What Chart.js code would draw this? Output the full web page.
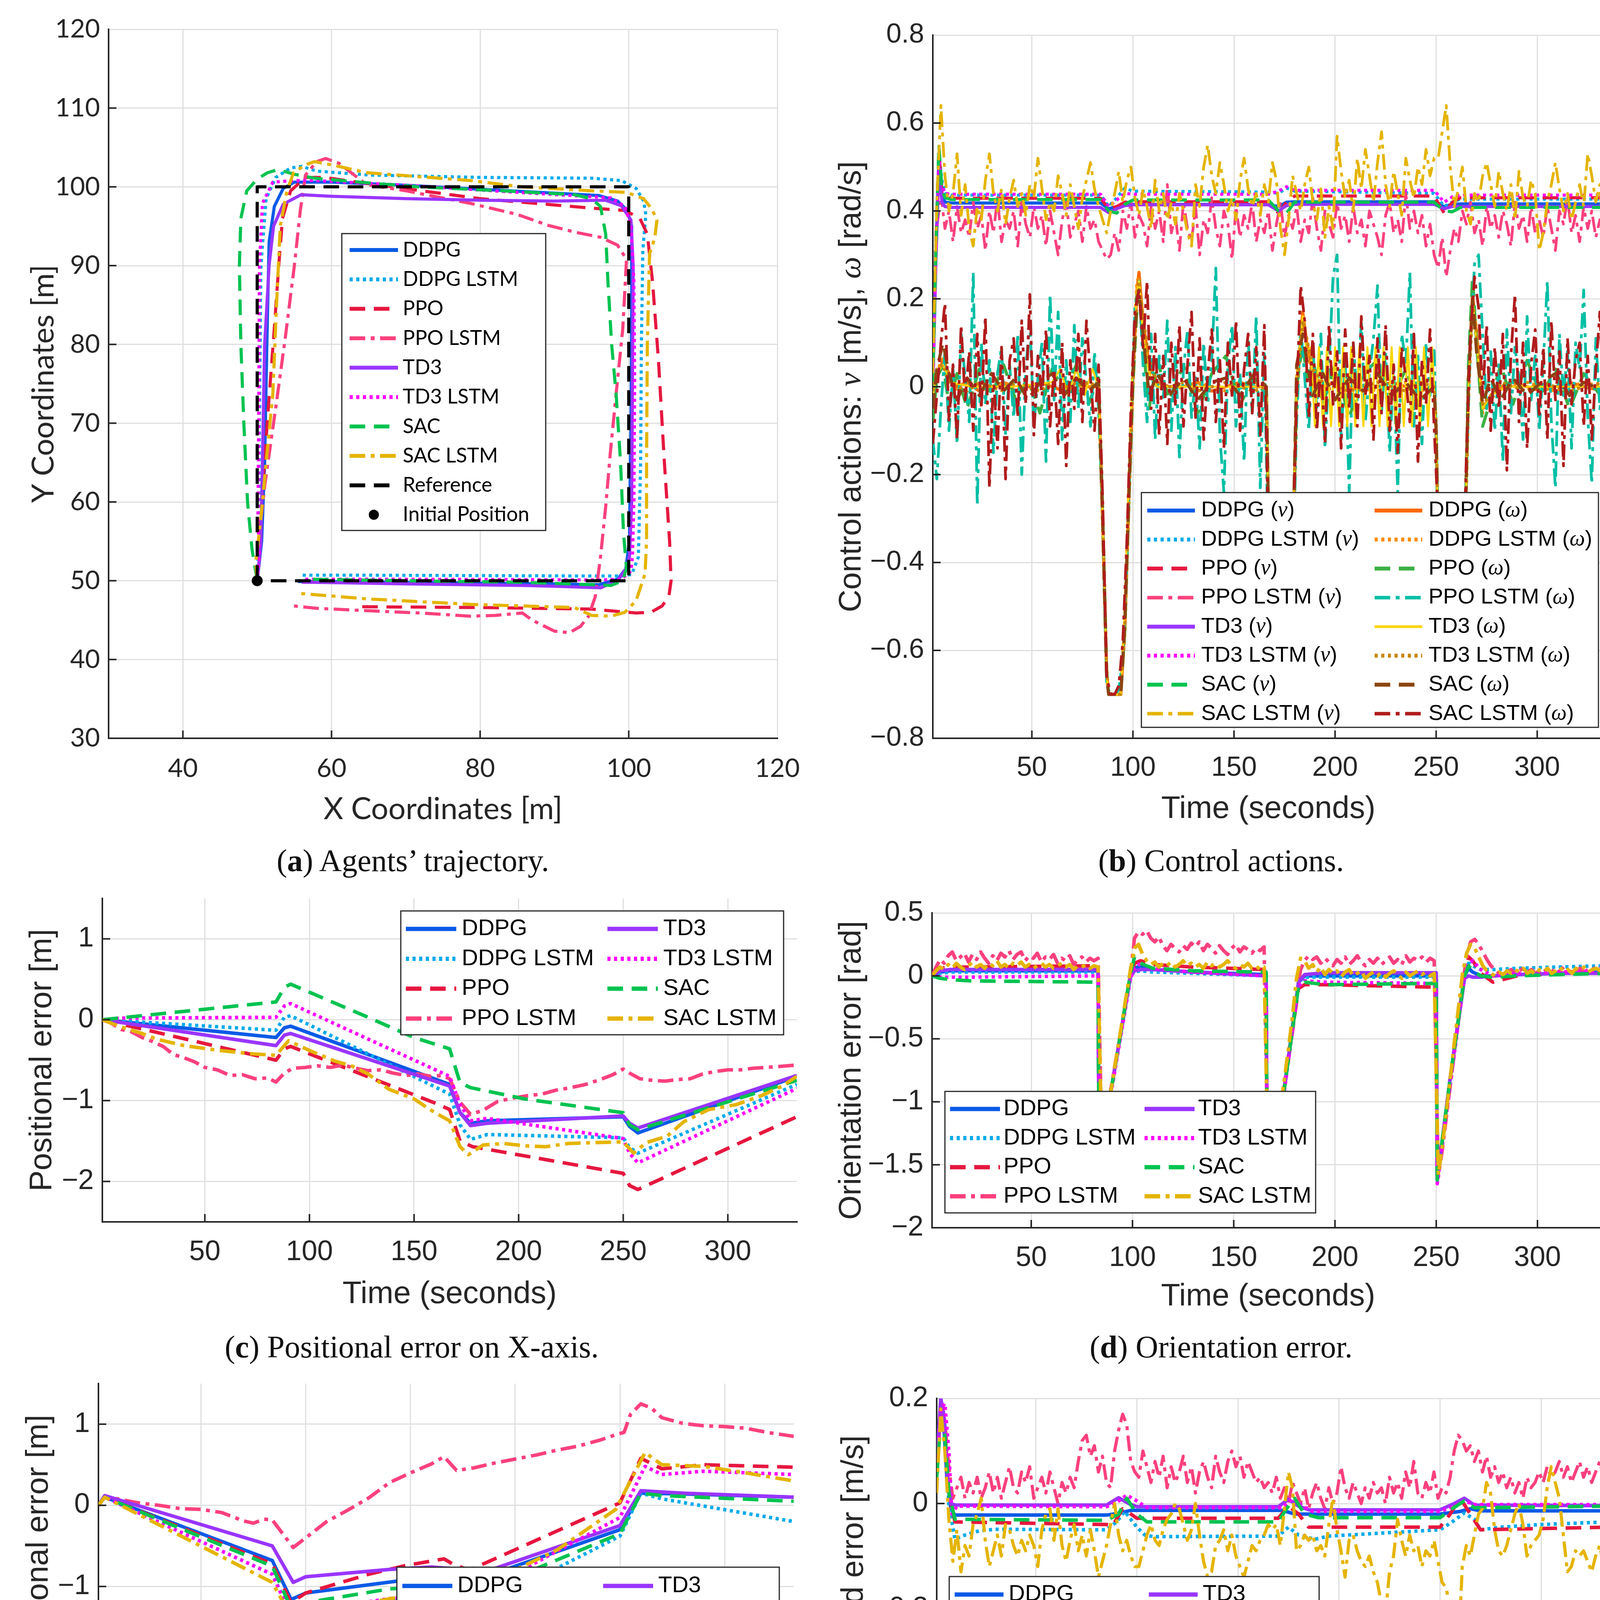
<!DOCTYPE html>
<html>
<head>
<meta charset="utf-8">
<script src="https://cdn.jsdelivr.net/npm/chart.js@4.4.1/dist/chart.umd.min.js"></script>
<style>
  body { margin: 0; background: #fff; width: 4150px; height: 4749px; position: relative; overflow: hidden; }
  canvas { position: absolute; }
  .cap { position: absolute; width: 2000px; text-align: center; font-family: "Liberation Serif", serif; font-size: 80px; line-height: 96px; color: #111; white-space: nowrap; }
</style>
</head>
<body>
<canvas id="pa"></canvas>
<canvas id="pb"></canvas>
<canvas id="pc"></canvas>
<canvas id="pd"></canvas>
<canvas id="pe"></canvas>
<canvas id="pf"></canvas>
<div class="cap" style="left:57px;top:2155px">(<b>a</b>) Agents’ trajectory.</div>
<div class="cap" style="left:2126px;top:2155px">(<b>b</b>) Control actions.</div>
<div class="cap" style="left:54px;top:3400px">(<b>c</b>) Positional error on X-axis.</div>
<div class="cap" style="left:2126px;top:3400px">(<b>d</b>) Orientation error.</div>
<div class="cap" style="left:48px;top:4649px">(<b>e</b>) Positional error on Y-axis.</div>
<div class="cap" style="left:2138px;top:4649px">(<b>f</b>) Linear speed error.</div>
<script>
// ---------- (a) trajectories, x/y in metres
const aDdpgX = [50, 50.6, 51.0, 51.3, 51.6, 52.3, 53.5, 55, 60, 70, 80, 90, 96, 98.5, 99.8, 100.4, 100.4, 100.3, 100.1, 99.6, 98.5, 96, 90, 80, 70, 60, 55.5];
const aDdpgY = [50, 55, 65, 80, 93, 97.5, 99.8, 100.6, 100.6, 100.2, 99.7, 99.2, 98.9, 98.2, 97, 95, 85, 70, 55, 51.5, 50.2, 49.5, 49.6, 49.7, 49.8, 49.9, 49.9];
const aDdpgLstmX = [50, 50.2, 50.3, 50.5, 51.2, 52.5, 54.5, 56, 58, 65, 80, 95, 99, 101, 102, 102.3, 101.9, 101.7, 101.6, 101.3, 100.4, 99, 95, 80, 65, 56];
const aDdpgLstmY = [50, 55, 70, 90, 98.5, 101.2, 102.4, 102.6, 102.0, 101.5, 101.2, 101.1, 100.8, 99.8, 98.2, 96.5, 92, 80, 65, 53, 50.8, 50.6, 50.6, 50.65, 50.7, 50.7];
const aPpoX = [50, 50.6, 51.5, 52.3, 52.9, 53.4, 54.5, 56.5, 59, 65, 80, 95, 99.5, 101.5, 102.5, 103.2, 104, 104.8, 105.5, 105.7, 105.4, 104.5, 103, 101, 95, 80, 63];
const aPpoY = [50, 60, 72, 82, 90, 96, 99.5, 101.2, 101.2, 100.4, 98.5, 97.3, 97, 96, 94, 88, 78, 65, 55, 50, 48, 46.8, 46, 45.9, 46.4, 46.6, 46.7];
const aPpoLstmX = [50, 50.3, 51, 52.5, 53.8, 55, 55.8, 56.5, 58, 59.2, 61, 64.7, 70, 78.7, 85, 89.2, 93, 96.2, 98.5, 99.7, 99.2, 98.3, 97.5, 96.9, 96.2, 95.5, 94.6, 93.5, 92, 90, 87, 85.7, 82, 78.7, 72, 64.7, 58, 54.9];
const aPpoLstmY = [50, 56, 62, 72, 81, 90, 97, 101.5, 103.2, 103.6, 103.0, 100.3, 99.5, 97.9, 96.5, 95.1, 94.2, 93.6, 92.6, 90.8, 82, 73.7, 66, 59.4, 53, 48, 45.5, 44.2, 43.4, 43.6, 45, 45.9, 45.6, 45.5, 45.9, 46.2, 46.5, 46.8];
const aTd3X = [50, 50.5, 50.7, 51, 51.6, 52.2, 53.5, 55.9, 60, 70, 80, 90, 96.9, 99, 100.3, 100.6, 100.5, 100.4, 100.1, 99.6, 98.5, 96.2, 90, 85.7, 70, 57.7, 56];
const aTd3Y = [50, 55, 65, 80, 90, 95, 97.8, 99, 98.8, 98.5, 98.3, 98.2, 98.3, 97.6, 95.8, 90, 75, 60, 53, 51.5, 50, 49.1, 49.3, 49.4, 49.6, 49.8, 49.8];
const aTd3LstmX = [50, 50.3, 50.1, 50.2, 50.3, 50.7, 52.1, 55, 57.7, 70, 85, 97.6, 99.5, 100.3, 100.7, 100.8, 100.7, 100.5, 100.3, 99, 96, 85, 70, 56];
const aTd3LstmY = [50, 53, 58, 70, 90, 97.9, 100.6, 100.8, 100.8, 100.2, 99.3, 98.6, 97.5, 95, 88, 75, 60, 53, 51.2, 50.2, 50.1, 50.15, 50.2, 50.2];
const aSacX = [50, 49.3, 48.7, 48.2, 47.8, 47.6, 47.8, 48.6, 50, 51.4, 52.8, 55, 57.7, 65, 71.7, 85, 92.7, 95, 96.2, 96.9, 97.2, 97.7, 98.3, 98.9, 99.3, 99.7, 99.2, 97.6, 95, 85.7, 70, 56.3];
const aSacY = [50, 54, 60, 70, 80, 90, 96, 99.5, 101, 101.8, 102.2, 101.6, 101.1, 100.5, 100, 99.4, 99, 98.5, 97.5, 94, 88, 80, 73.7, 65, 56, 51.6, 50, 49.4, 49.5, 49.8, 50, 50.2];
const aSacLstmX = [50, 49.8, 50.5, 51.3, 52.1, 52.6, 53.1, 54, 54.9, 56.5, 57.7, 60, 64.7, 78.7, 85.7, 95, 99.7, 102, 103.1, 103.8, 103.5, 102.8, 102.5, 102.4, 102.4, 102.2, 101, 99.5, 97.6, 95, 92.7, 78.7, 64.7, 55.6];
const aSacLstmY = [50, 52.3, 58, 66, 73.7, 85, 95, 99.5, 101.8, 102.8, 103.2, 102.8, 101.8, 100.8, 100, 99.5, 99.3, 98.5, 97.2, 95.8, 93.5, 91.5, 80, 65, 55, 50.9, 47.5, 46, 45.5, 45.6, 46.6, 47, 47.7, 48.4];
const aRefX = [50, 50, 100, 100, 50];
const aRefY = [50, 100, 100, 50, 50];
const aStartX = [50];
const aStartY = [50];
const aXTicks = [40, 60, 80, 100, 120];
const aYTicks = [30, 40, 50, 60, 70, 80, 90, 100, 110, 120];

// ---------- shared time axis
const timeTicks = [50, 100, 150, 200, 250, 300];

// ---------- (b) control actions
const bVT = [1, 2.5, 4, 5.5, 7, 10, 84, 88, 92, 96, 100, 167, 172, 176, 180, 249, 254, 258, 262, 333];
const bDdpgV = [0.0, 0.30, 0.52, 0.44, 0.42, 0.418, 0.418, 0.405, 0.41, 0.415, 0.415, 0.415, 0.41, 0.42, 0.421, 0.421, 0.41, 0.415, 0.416, 0.416];
const bDdpgLstmV = [0.0, 0.32, 0.53, 0.47, 0.44, 0.436, 0.436, 0.41, 0.43, 0.452, 0.445, 0.443, 0.44, 0.452, 0.445, 0.44, 0.41, 0.42, 0.427, 0.427];
const bPpoV = [0.0, 0.33, 0.54, 0.44, 0.43, 0.429, 0.429, 0.405, 0.41, 0.42, 0.421, 0.421, 0.395, 0.42, 0.434, 0.434, 0.395, 0.42, 0.43, 0.43];
const bTd3V = [0.0, 0.28, 0.50, 0.42, 0.41, 0.408, 0.408, 0.396, 0.405, 0.412, 0.414, 0.414, 0.40, 0.412, 0.415, 0.415, 0.405, 0.41, 0.41, 0.41];
const bTd3LstmV = [0.0, 0.30, 0.52, 0.46, 0.44, 0.438, 0.438, 0.41, 0.425, 0.44, 0.438, 0.438, 0.445, 0.455, 0.447, 0.447, 0.42, 0.432, 0.436, 0.436];
const bSacV = [0.0, 0.31, 0.55, 0.45, 0.43, 0.426, 0.426, 0.40, 0.395, 0.415, 0.425, 0.425, 0.40, 0.395, 0.42, 0.42, 0.40, 0.398, 0.408, 0.408];
// noisy series sampled every 2 s from t = 1 to 333
const bPpoLstmV = [
  0.02, 0.36, 0.44, 0.36, 0.40, 0.33, 0.41, 0.35, 0.38, 0.34,
  0.42, 0.36, 0.39, 0.31, 0.40, 0.35, 0.43, 0.33, 0.38, 0.36,
  0.40, 0.32, 0.42, 0.37, 0.34, 0.41, 0.36, 0.39, 0.32, 0.40,
  0.35, 0.30, 0.38, 0.42, 0.34, 0.37, 0.40, 0.33, 0.41, 0.36,
  0.38, 0.33, 0.31, 0.29, 0.30, 0.35, 0.31, 0.40, 0.36, 0.42,
  0.34, 0.39, 0.37, 0.32, 0.41, 0.36, 0.40, 0.33, 0.46, 0.35,
  0.39, 0.31, 0.42, 0.36, 0.33, 0.41, 0.30, 0.38, 0.35, 0.43,
  0.36, 0.32, 0.40, 0.37, 0.29, 0.41, 0.34, 0.39, 0.36, 0.42,
  0.33, 0.38, 0.35, 0.40, 0.31, 0.37, 0.42, 0.34, 0.39, 0.36,
  0.41, 0.33, 0.38, 0.35, 0.43, 0.36, 0.31, 0.40, 0.37, 0.34,
  0.42, 0.36, 0.39, 0.33, 0.41, 0.35, 0.38, 0.32, 0.40, 0.37,
  0.34, 0.30, 0.39, 0.42, 0.35, 0.38, 0.33, 0.44, 0.36, 0.40,
  0.35, 0.39, 0.32, 0.37, 0.30, 0.27, 0.34, 0.25, 0.31, 0.36,
  0.33, 0.40, 0.37, 0.42, 0.35, 0.38, 0.32, 0.41, 0.36, 0.39,
  0.34, 0.40, 0.37, 0.32, 0.42, 0.36, 0.39, 0.33, 0.41, 0.35,
  0.38, 0.34, 0.41, 0.36, 0.31, 0.40, 0.37, 0.43, 0.35, 0.39,
  0.33, 0.41, 0.36, 0.40, 0.34, 0.38, 0.35
];
const bSacLstmV = [
  0.03, 0.42, 0.64, 0.48, 0.40, 0.44, 0.53, 0.39, 0.46, 0.36,
  0.32, 0.41, 0.38, 0.47, 0.53, 0.44, 0.40, 0.45, 0.37, 0.43,
  0.47, 0.41, 0.44, 0.39, 0.46, 0.43, 0.52, 0.45, 0.38, 0.42,
  0.40, 0.48, 0.44, 0.39, 0.46, 0.41, 0.36, 0.43, 0.47, 0.51,
  0.45, 0.41, 0.38, 0.35, 0.40, 0.44, 0.49, 0.42, 0.47, 0.50,
  0.43, 0.39, 0.45, 0.41, 0.36, 0.47, 0.40, 0.44, 0.38, 0.42,
  0.37, 0.44, 0.40, 0.35, 0.32, 0.46, 0.41, 0.50, 0.55, 0.48,
  0.44, 0.51, 0.46, 0.40, 0.43, 0.38, 0.47, 0.52, 0.45, 0.41,
  0.44, 0.39, 0.46, 0.42, 0.51, 0.47, 0.36, 0.30, 0.38, 0.48,
  0.44, 0.40, 0.46, 0.50, 0.42, 0.38, 0.45, 0.34, 0.41, 0.36,
  0.57, 0.49, 0.43, 0.47, 0.40, 0.52, 0.45, 0.54, 0.48, 0.42,
  0.51, 0.58, 0.46, 0.41, 0.49, 0.44, 0.39, 0.52, 0.47, 0.43,
  0.50, 0.46, 0.54, 0.48, 0.52, 0.52, 0.58, 0.64, 0.50, 0.41,
  0.45, 0.50, 0.40, 0.37, 0.44, 0.42, 0.48, 0.51, 0.46, 0.41,
  0.49, 0.44, 0.40, 0.46, 0.38, 0.49, 0.43, 0.41, 0.47, 0.44,
  0.31, 0.35, 0.42, 0.46, 0.51, 0.45, 0.40, 0.44, 0.38, 0.42,
  0.46, 0.41, 0.53, 0.48, 0.42, 0.46, 0.33
];
const bWT = [1, 3, 6, 9, 13, 18, 24, 30, 36, 42, 48, 54, 60, 66, 72, 78,
  83, 85, 87, 88, 94, 96, 98, 100, 102, 103, 105, 108, 112,
  118, 125, 132, 139, 146, 153, 160, 166,
  168, 170, 177, 179, 181, 184, 186, 189,
  194, 200, 207, 214, 221, 228, 235, 242, 249,
  250, 252, 254, 262, 264, 266, 268, 270, 273, 277, 282,
  288, 295, 302, 309, 316, 323, 333];
const bDdpgW = [-0.02, 0.02, 0.06, 0.03, 0.00, 0.01, -0.01, 0.00, 0.01, -0.01, 0.00, 0.01, 0.00, -0.01, 0.01, 0.00,
  0.00, -0.30, -0.65, -0.70, -0.70, -0.55, -0.25, 0.02, 0.22, 0.26, 0.15, 0.05, 0.01,
  0.00, 0.00, 0.01, -0.01, 0.00, 0.01, 0.00, 0.00,
  -0.55, -0.70, -0.70, -0.40, 0.00, 0.17, 0.10, 0.03,
  0.00, 0.01, 0.00, -0.01, 0.00, 0.01, 0.00, -0.01, 0.00,
  -0.10, -0.60, -0.70, -0.70, -0.40, 0.00, 0.21, 0.12, -0.05, -0.02, 0.00,
  0.01, 0.00, -0.01, 0.00, 0.01, 0.00, -0.01];
const bDdpgLstmW = [-0.03, 0.03, 0.07, 0.02, -0.01, 0.01, 0.00, -0.01, 0.01, 0.00, -0.01, 0.01, 0.00, 0.01, -0.01, 0.00,
  0.00, -0.32, -0.66, -0.70, -0.70, -0.52, -0.22, 0.05, 0.24, 0.25, 0.13, 0.04, 0.00,
  -0.01, 0.00, 0.01, 0.00, -0.01, 0.00, 0.01, 0.00,
  -0.56, -0.70, -0.70, -0.38, 0.02, 0.16, 0.09, 0.02,
  -0.01, 0.00, 0.01, 0.00, -0.01, 0.00, 0.01, 0.00, 0.00,
  -0.12, -0.62, -0.70, -0.70, -0.38, 0.02, 0.20, 0.10, -0.06, -0.03, 0.00,
  0.00, 0.01, 0.00, -0.01, 0.00, 0.01, 0.00];
const bPpoW = [-0.08, 0.02, 0.05, -0.04, 0.03, -0.05, 0.04, -0.02, 0.05, -0.03, 0.02, -0.06, 0.04, -0.01, 0.05, -0.04,
  0.02, -0.28, -0.65, -0.70, -0.70, -0.55, -0.26, 0.00, 0.18, 0.21, 0.10, -0.05, 0.06,
  -0.03, 0.05, -0.06, 0.03, 0.07, -0.04, 0.02, -0.02,
  -0.55, -0.70, -0.70, -0.42, 0.00, 0.10, 0.02, 0.06,
  -0.04, 0.05, -0.07, 0.03, 0.06, -0.03, 0.04, -0.05, 0.02,
  -0.10, -0.58, -0.70, -0.70, -0.40, 0.05, 0.25, 0.10, -0.09, -0.03, 0.05,
  -0.04, 0.06, -0.02, 0.04, -0.05, 0.03, -0.03];
const bTd3LstmW = [-0.01, 0.04, 0.05, 0.01, 0.00, -0.01, 0.01, 0.00, -0.01, 0.01, 0.00, -0.01, 0.01, 0.00, 0.00, 0.01,
  0.00, -0.28, -0.64, -0.70, -0.70, -0.56, -0.27, 0.00, 0.20, 0.24, 0.16, 0.06, 0.01,
  0.00, 0.01, -0.01, 0.00, 0.01, 0.00, -0.01, 0.00,
  -0.54, -0.70, -0.70, -0.42, -0.02, 0.15, 0.11, 0.04,
  0.01, 0.00, -0.01, 0.00, 0.01, 0.00, -0.01, 0.01, 0.00,
  -0.08, -0.58, -0.70, -0.70, -0.42, -0.03, 0.19, 0.13, -0.04, -0.02, 0.01,
  0.00, -0.01, 0.01, 0.00, -0.01, 0.00, 0.01];
const bSacW = [-0.05, 0.04, 0.10, 0.03, -0.03, 0.02, -0.02, 0.03, -0.01, 0.02, -0.03, 0.01, 0.03, -0.02, 0.02, -0.01,
  0.01, -0.30, -0.66, -0.70, -0.70, -0.54, -0.24, 0.03, 0.20, 0.22, 0.12, -0.02, 0.03,
  -0.02, 0.02, -0.03, 0.01, 0.02, -0.02, 0.03, 0.00,
  -0.55, -0.70, -0.70, -0.40, 0.05, 0.12, 0.06, -0.02,
  0.03, -0.03, 0.02, -0.01, 0.03, -0.02, 0.01, -0.03, 0.00,
  -0.10, -0.60, -0.70, -0.70, -0.40, 0.02, 0.20, 0.08, -0.04, 0.02, -0.03,
  0.02, -0.02, 0.01, 0.03, -0.02, 0.01, -0.01];
const bTd3WT = [1, 3, 6, 10, 20, 40, 60, 64, 68, 72, 76, 80, 83, 85, 87, 88, 94, 96, 98, 100, 102, 103, 105, 108, 112, 140, 166,
  168, 170, 177, 179, 181, 184, 186,
  188, 190, 192, 194, 196, 198, 200, 202, 204, 206, 208, 210, 212, 214, 216, 218,
  220, 222, 224, 226, 228, 230, 232, 234, 236, 238, 240, 242, 244, 246, 248,
  249, 250, 252, 254, 262, 264, 266, 268, 270, 273, 277, 285, 333];
const bTd3W = [-0.02, 0.03, 0.05, 0.01, 0.0, 0.0, 0.01, 0.04, -0.02, 0.04, -0.02, 0.04, 0.0, -0.3, -0.66, -0.7, -0.7, -0.5, -0.2, 0.05, 0.22, 0.24, 0.12, 0.03, 0.0, 0.0, 0.0,
  -0.55, -0.7, -0.7, -0.38, 0.02, 0.16, 0.08,
  0.09, -0.09, 0.09, -0.09, 0.09, -0.09, 0.09, -0.09, 0.09, -0.09, 0.09, -0.09, 0.09, -0.09, 0.09, -0.09,
  0.09, -0.09, 0.09, -0.09, 0.09, -0.09, 0.09, -0.09, 0.09, -0.09, 0.09, -0.09, 0.09, -0.09, 0.09,
  0.0, -0.1, -0.6, -0.7, -0.7, -0.4, 0.0, 0.2, 0.1, -0.05, -0.02, 0.0, 0.0];
const bPpoLstmW = [
  -0.12, -0.21, -0.05, 0.08, -0.10, 0.04, -0.13, 0.12, 0.02, -0.08,
  0.26, -0.27, 0.10, -0.04, 0.06, -0.15, 0.03, 0.09, -0.11, 0.05,
  -0.07, 0.12, -0.20, 0.04, 0.15, -0.09, 0.02, 0.10, -0.17, 0.21,
  -0.03, 0.17, -0.12, 0.06, -0.08, 0.14, -0.05, 0.11, 0.01, -0.09,
  0.08, -0.05, -0.30, -0.68, -0.70, -0.70, -0.69, -0.62, -0.40, -0.10,
  0.18, 0.24, 0.05, -0.08, 0.12, -0.12, 0.07, -0.03, 0.15, -0.10,
  0.09, -0.16, 0.04, 0.13, -0.07, 0.02, -0.14, 0.10, -0.04, 0.06,
  0.27, -0.11, -0.24, 0.05, 0.14, -0.09, 0.03, -0.17, 0.11, -0.06,
  0.16, -0.23, 0.08, -0.40, -0.70, -0.70, -0.70, -0.70, -0.66, -0.45,
  -0.08, 0.14, 0.02, -0.10, 0.09, -0.05, 0.12, -0.14, 0.04, 0.25,
  0.30, -0.12, 0.06, -0.24, 0.10, -0.03, 0.15, -0.08, 0.03, 0.11,
  0.23, -0.06, 0.08, -0.15, 0.04, -0.24, 0.12, 0.05, 0.26, -0.09,
  0.07, -0.13, 0.10, -0.02, 0.09, -0.30, -0.68, -0.70, -0.70, -0.70,
  -0.69, -0.55, -0.20, 0.10, 0.28, 0.30, 0.12, -0.05, 0.08, -0.10,
  0.05, -0.17, 0.13, -0.06, 0.09, 0.02, -0.12, 0.16, -0.03, 0.07,
  -0.10, 0.05, 0.24, -0.08, -0.23, 0.12, -0.02, 0.08, -0.14, 0.10,
  0.04, 0.22, -0.07, -0.22, 0.11, -0.05, 0.02
];
const bSacLstmW = [
  -0.13, -0.02, 0.10, 0.19, -0.08, 0.05, -0.12, 0.14, -0.03, 0.08,
  -0.10, 0.12, -0.05, 0.16, -0.23, 0.03, -0.14, 0.09, -0.21, 0.06,
  0.11, -0.07, 0.15, -0.04, 0.21, -0.11, 0.07, -0.02, 0.13, -0.09,
  0.04, -0.13, 0.10, -0.18, 0.06, -0.05, 0.12, -0.08, 0.15, 0.02,
  -0.10, 0.05, -0.25, -0.66, -0.70, -0.70, -0.68, -0.58, -0.35, -0.05,
  0.17, 0.22, 0.09, 0.24, -0.05, 0.12, -0.11, 0.07, -0.13, 0.10,
  -0.04, 0.14, -0.09, 0.05, 0.17, -0.07, 0.11, -0.12, 0.03, 0.13,
  -0.08, 0.06, -0.14, 0.10, -0.02, 0.15, -0.10, 0.04, 0.12, -0.06,
  0.09, -0.11, 0.14, -0.35, -0.70, -0.70, -0.70, -0.70, -0.64, -0.40,
  -0.02, 0.23, 0.15, -0.07, 0.12, -0.10, 0.06, -0.13, 0.14, -0.04,
  0.08, -0.14, 0.13, -0.05, 0.10, -0.09, 0.16, -0.02, 0.07, -0.12,
  0.11, -0.06, 0.14, -0.10, 0.05, -0.15, 0.09, 0.02, -0.08, 0.12,
  -0.17, 0.06, -0.04, 0.13, -0.09, -0.30, -0.66, -0.70, -0.70, -0.70,
  -0.68, -0.50, -0.15, 0.12, 0.25, 0.18, -0.02, 0.14, -0.10, 0.09,
  -0.05, 0.12, -0.19, 0.07, 0.21, -0.08, 0.10, -0.14, 0.05, 0.13,
  -0.07, 0.09, -0.12, 0.15, -0.03, 0.08, -0.18, 0.11, -0.04, 0.06,
  0.10, -0.09, 0.07, -0.12, 0.04, 0.17, -0.05
];
const bYTicks = [-0.8, -0.6, -0.4, -0.2, 0, 0.2, 0.4, 0.6, 0.8];

// ---------- (c) positional error on X
const cT = [1, 84, 88, 91, 167, 172, 177, 185, 250, 253, 257, 333];
const cDdpg = [0, -0.22, -0.1, -0.08, -0.8, -1.15, -1.28, -1.25, -1.2, -1.32, -1.4, -0.7];
const cTd3 = [0, -0.32, -0.19, -0.17, -0.82, -1.15, -1.31, -1.28, -1.19, -1.28, -1.34, -0.69];
const cDdpgLstm = [0, -0.13, 0.03, 0.05, -0.92, -1.3, -1.48, -1.42, -1.46, -1.58, -1.65, -0.8];
const cTd3LstmT = [1, 10, 84, 88, 91, 167, 172, 177, 185, 250, 253, 257, 333];
const cTd3Lstm = [0, 0.02, 0.03, 0.17, 0.2, -0.7, -1.05, -1.25, -1.22, -1.47, -1.65, -1.77, -0.85];
const cPpoT = [1, 84, 88, 91, 160, 167, 172, 178, 250, 253, 257, 333];
const cPpo = [0, -0.5, -0.36, -0.33, -1.03, -1.11, -1.5, -1.57, -1.9, -2.05, -2.1, -1.2];
const cSacT = [1, 84, 88, 91, 128, 150, 167, 172, 177, 203, 250, 253, 257, 333];
const cSac = [0, 0.22, 0.4, 0.44, 0.03, -0.22, -0.36, -0.78, -0.84, -0.98, -1.15, -1.3, -1.36, -0.75];
const cPpoLstmT = [1, 5, 10, 15, 20, 25, 30, 35, 40, 45, 50, 56, 62, 68, 74, 80, 84, 88, 92, 98, 104, 110, 116, 122, 128, 134, 140, 146, 152, 158, 163, 167, 172, 177, 183, 190, 197, 204, 211, 218, 225, 232, 239, 245, 250, 253, 258, 264, 270, 276, 282, 288, 294, 300, 306, 312, 318, 324, 333];
const cPpoLstm = [0, -0.04, -0.12, -0.15, -0.22, -0.27, -0.33, -0.43, -0.47, -0.52, -0.59, -0.62, -0.69, -0.68, -0.73, -0.72, -0.77, -0.66, -0.60, -0.59, -0.57, -0.59, -0.56, -0.60, -0.63, -0.62, -0.66, -0.69, -0.67, -0.70, -0.69, -0.73, -1.02, -1.17, -1.12, -1.01, -0.97, -0.94, -0.92, -0.87, -0.84, -0.80, -0.74, -0.68, -0.61, -0.66, -0.73, -0.75, -0.76, -0.74, -0.73, -0.67, -0.64, -0.62, -0.62, -0.60, -0.59, -0.58, -0.56];
const cSacLstmT = [1, 10, 20, 27, 40, 57, 72, 84, 90, 100, 112, 120, 128, 138, 150, 160, 167, 172, 176, 183, 193, 203, 213, 224, 236, 250, 255, 261, 271, 279, 291, 304, 316, 326, 333];
const cSacLstm = [0, -0.09, -0.17, -0.24, -0.32, -0.38, -0.42, -0.44, -0.26, -0.38, -0.51, -0.57, -0.67, -0.86, -0.98, -1.15, -1.25, -1.57, -1.67, -1.55, -1.53, -1.56, -1.57, -1.53, -1.52, -1.51, -1.65, -1.52, -1.44, -1.26, -1.11, -1.05, -0.94, -0.82, -0.70];
const posTicks = [-2, -1, 0, 1];

// ---------- (d) orientation error
const dT = [1, 5, 10, 20, 83, 83.5, 89, 99, 101, 104, 110, 130, 166, 166.5, 174.5, 182, 185, 195, 250, 250.5, 257, 264, 266, 268, 272, 278, 290, 310, 333];
const dDdpg = [0, 0.03, 0.04, 0.04, 0.04, -1.55, -0.95, 0.0, 0.06, 0.08, 0.05, 0.03, 0.01, -1.6, -0.95, -0.05, 0.0, 0.0, 0.0, -1.62, -0.8, 0.0, 0.06, 0.03, 0.0, 0.0, 0.01, 0.02, 0.03];
const dDdpgLstm = [0, 0.02, 0.03, 0.03, 0.03, -1.55, -0.95, 0.0, 0.03, 0.04, 0.03, 0.02, 0.0, -1.6, -0.95, -0.05, -0.01, -0.01, -0.01, -1.62, -0.8, 0.02, 0.10, 0.08, 0.05, 0.05, 0.06, 0.07, 0.08];
const dPpo = [0, 0.06, 0.07, 0.07, 0.08, -1.55, -0.95, 0.0, 0.1, 0.12, 0.09, 0.07, 0.05, -1.6, -0.95, -0.1, -0.07, -0.07, -0.09, -1.62, -0.8, 0.0, 0.15, 0.12, 0.02, -0.05, 0.0, 0.02, 0.04];
const dTd3 = [0, 0.04, 0.05, 0.05, 0.05, -1.55, -0.95, 0.0, 0.04, 0.05, 0.05, 0.03, 0.0, -1.6, -0.95, -0.05, 0.01, 0.025, 0.025, -1.62, -0.8, -0.02, 0.0, -0.01, -0.01, 0.0, 0.01, 0.02, 0.02];
const dTd3Lstm = [0, -0.01, -0.01, -0.01, 0.0, -1.6, -0.97, -0.02, 0.06, 0.1, 0.06, 0.03, 0.0, -1.62, -0.97, -0.08, -0.04, -0.05, -0.06, -1.65, -0.85, 0.0, 0.1, 0.12, 0.05, 0.0, 0.02, 0.03, 0.04];
const dSac = [0, -0.02, -0.03, -0.04, -0.05, -1.55, -0.95, 0.02, 0.15, 0.1, 0.06, 0.04, 0.03, -1.6, -0.95, -0.08, -0.05, -0.07, -0.06, -1.62, -0.8, 0.0, 0.08, 0.04, 0.0, -0.01, 0.0, 0.01, 0.02];
const dPpoLstm = [
  0.00, 0.07, 0.13, 0.10, 0.16, 0.19, 0.12, 0.15, 0.18, 0.11,
  0.17, 0.13, 0.19, 0.14, 0.10, 0.16, 0.12, 0.18, 0.15, 0.20,
  0.13, 0.17, 0.19, 0.12, 0.16, 0.14, 0.18, 0.11, 0.15, 0.13,
  0.17, 0.10, 0.14, 0.12, 0.16, 0.09, 0.13, 0.15, 0.11, 0.14,
  0.12, 0.14, -1.45, -1.15, -0.93, -0.74, -0.55, -0.36, -0.17, 0.02,
  0.30, 0.35, 0.33, 0.36, 0.30, 0.27, 0.31, 0.24, 0.20, 0.25,
  0.22, 0.19, 0.24, 0.21, 0.26, 0.23, 0.27, 0.20, 0.25, 0.22,
  0.18, 0.24, 0.20, 0.17, 0.22, 0.25, 0.19, 0.23, 0.21, 0.18,
  0.22, 0.20, 0.23, -1.55, -1.50, -1.30, -1.10, -0.87, -0.64, -0.41,
  -0.18, 0.05, 0.12, 0.16, 0.13, 0.15, 0.10, 0.14, 0.11, 0.08,
  0.13, 0.10, 0.15, 0.09, 0.12, 0.16, 0.11, 0.08, 0.13, 0.10,
  0.14, 0.09, 0.12, 0.15, 0.10, 0.13, 0.09, 0.16, 0.11, 0.14,
  0.12, 0.15, 0.11, 0.14, 0.12, -1.60, -1.38, -1.12, -0.86, -0.60,
  -0.35, -0.07, 0.15, 0.27, 0.29, 0.25, 0.19, 0.13, 0.08, 0.05,
  0.02, -0.01, 0.03, 0.05, 0.02, 0.04, 0.06, 0.03, 0.05, 0.02,
  0.04, 0.06, 0.03, 0.05, 0.02, 0.04, 0.07, 0.03, 0.05, 0.04,
  0.06, 0.03, 0.05, 0.07, 0.04, 0.06, 0.05
];
const dSacLstm = [
  0.00, 0.04, 0.07, 0.05, 0.09, 0.06, 0.10, 0.07, 0.05, 0.08,
  0.11, 0.07, 0.09, 0.06, 0.10, 0.08, 0.12, 0.07, 0.09, 0.06,
  0.10, 0.08, 0.11, 0.07, 0.09, 0.06, 0.08, 0.10, 0.07, 0.09,
  0.06, 0.08, 0.10, 0.07, 0.09, 0.05, 0.08, 0.07, 0.09, 0.06,
  0.08, 0.07, -1.50, -1.20, -0.95, -0.75, -0.55, -0.35, -0.15, 0.05,
  0.22, 0.25, 0.17, 0.12, 0.09, 0.11, 0.07, 0.10, 0.08, 0.11,
  0.07, 0.09, 0.12, 0.08, 0.10, 0.07, 0.09, 0.06, 0.11, 0.08,
  0.10, 0.07, 0.09, 0.12, 0.08, 0.06, 0.09, 0.07, 0.10, 0.06,
  0.08, 0.05, 0.07, -1.55, -1.48, -1.28, -1.05, -0.82, -0.58, -0.32,
  -0.02, 0.14, 0.12, 0.06, 0.09, 0.03, 0.07, 0.01, 0.05, 0.02,
  0.04, -0.01, 0.03, 0.05, 0.00, 0.02, 0.04, -0.02, 0.01, 0.03,
  0.00, 0.03, -0.01, 0.02, 0.04, 0.01, -0.02, 0.03, 0.00, 0.02,
  0.04, 0.01, 0.03, 0.00, 0.02, -1.58, -1.35, -1.08, -0.80, -0.52,
  -0.25, 0.02, 0.18, 0.25, 0.22, 0.15, 0.08, 0.04, 0.02, 0.00,
  0.03, 0.01, 0.04, 0.02, 0.05, 0.03, 0.06, 0.02, 0.04, 0.01,
  0.05, 0.03, 0.06, 0.02, 0.04, 0.07, 0.03, 0.05, 0.02, 0.06,
  0.04, 0.07, 0.03, 0.05, 0.06, 0.04, 0.08
];
const dYTicks = [-2, -1.5, -1, -0.5, 0, 0.5];

// ---------- (e) positional error on Y
const eDdpgT = [1, 4, 84, 93, 100, 145, 167, 180, 250, 260, 280, 333];
const eDdpg = [0, 0.1, -0.68, -1.16, -1.08, -0.93, -0.87, -0.93, -0.3, 0.15, 0.14, 0.1];
const eDdpgLstmT = [1, 4, 84, 94, 100, 140, 170, 185, 218, 250, 260, 270, 333];
const eDdpgLstm = [0, 0.1, -0.85, -1.38, -1.28, -1.18, -1.1, -1.12, -0.8, -0.38, 0.15, 0.08, -0.2];
const ePpoT = [1, 4, 84, 93, 100, 130, 148, 166, 170, 178, 250, 260, 270, 290, 333];
const ePpo = [0, 0.1, -0.72, -1.2, -1.08, -0.85, -0.74, -0.66, -0.72, -0.8, 0.03, 0.58, 0.45, 0.5, 0.47];
const ePpoLstmT = [1, 4, 10, 20, 30, 40, 50, 60, 70, 75, 80, 84, 94, 100, 110, 120, 130, 140, 150, 160, 166, 172, 180, 190, 200, 210, 220, 230, 240, 248, 252, 255, 260, 265, 270, 280, 290, 300, 310, 320, 333];
const ePpoLstm = [0, 0.1, 0.08, 0.03, 0.0, -0.04, -0.05, -0.09, -0.19, -0.22, -0.17, -0.18, -0.52, -0.4, -0.2, -0.06, 0.09, 0.28, 0.4, 0.51, 0.6, 0.43, 0.46, 0.52, 0.57, 0.62, 0.68, 0.73, 0.8, 0.87, 0.9, 1.12, 1.25, 1.2, 1.08, 1.01, 0.98, 0.97, 0.95, 0.9, 0.85];
const eTd3T = [1, 4, 84, 94, 100, 140, 160, 170, 190, 250, 260, 280, 333];
const eTd3 = [0, 0.12, -0.5, -0.95, -0.88, -0.79, -0.76, -0.78, -0.78, -0.25, 0.18, 0.15, 0.1];
const eTd3LstmT = [1, 4, 84, 94, 100, 140, 170, 185, 250, 262, 270, 290, 333];
const eTd3Lstm = [0, 0.1, -0.85, -1.42, -1.3, -1.15, -1.08, -1.05, -0.15, 0.48, 0.38, 0.42, 0.38];
const eSacT = [1, 4, 84, 93, 100, 140, 170, 185, 210, 250, 260, 270, 333];
const eSac = [0, 0.1, -0.75, -1.27, -1.2, -1.03, -0.98, -1.0, -0.78, -0.35, 0.15, 0.12, 0.05];
const eSacLstmT = [1, 4, 84, 95, 100, 140, 170, 185, 220, 248, 262, 270, 290, 310, 333];
const eSacLstm = [0, 0.1, -0.95, -1.47, -1.37, -1.15, -1.05, -0.98, -0.55, -0.05, 0.65, 0.5, 0.48, 0.4, 0.3];

// ---------- (f) linear speed error
const fDdpgT = [1, 3, 4.5, 6, 8, 10, 85, 92, 97, 172, 178, 250, 260, 265, 270, 333];
const fDdpg = [0.08, 0.19, 0.15, 0.05, -0.01, -0.022, -0.022, -0.018, -0.013, -0.013, -0.02, -0.02, -0.015, -0.01, -0.014, -0.014];
const fDdpgLstmT = [1, 3, 5, 7, 10, 15, 22, 30, 85, 90, 94, 100, 104, 108, 170, 175, 180, 188, 195, 250, 256, 262, 267, 270, 280, 300, 333];
const fDdpgLstm = [0.07, 0.2, 0.15, 0.0, -0.068, -0.06, -0.052, -0.049, -0.05, -0.035, -0.015, -0.045, -0.06, -0.063, -0.062, -0.045, -0.06, -0.068, -0.062, -0.05, -0.035, -0.018, -0.03, -0.05, -0.045, -0.04, -0.035];
const fPpoT = [1, 3, 5, 7, 10, 85, 88, 93, 97, 100, 170, 175, 180, 185, 250, 255, 260, 265, 270, 333];
const fPpo = [0.06, 0.18, 0.14, 0.02, -0.035, -0.04, -0.042, -0.01, -0.02, -0.028, -0.028, -0.005, -0.02, -0.045, -0.045, -0.02, 0.01, -0.02, -0.05, -0.045];
const fTd3T = [1, 3, 4.5, 6, 8, 10, 85, 91, 96, 100, 170, 175, 180, 185, 250, 257, 262, 267, 333];
const fTd3 = [0.07, 0.2, 0.17, 0.06, 0.0, -0.003, -0.003, 0.011, 0.0, -0.006, -0.006, 0.008, -0.005, -0.012, -0.012, 0.0, 0.01, -0.003, -0.004];
const fTd3LstmT = [1, 3, 5, 7, 8.5, 11, 85, 90, 95, 100, 105, 172, 177, 182, 187, 250, 257, 262, 267, 333];
const fTd3Lstm = [0.06, 0.18, 0.19, 0.1, -0.02, -0.005, -0.006, 0.002, 0.016, 0.005, -0.008, -0.008, 0.01, -0.005, -0.015, -0.015, -0.005, 0.005, -0.002, -0.002];
const fSacT = [1, 3, 5, 7, 10, 85, 91, 95, 100, 105, 170, 174, 178, 183, 190, 250, 256, 262, 267, 333];
const fSac = [0.05, 0.16, 0.13, 0.02, -0.03, -0.032, -0.02, 0.01, -0.02, -0.035, -0.035, -0.01, 0.01, -0.02, -0.027, -0.027, -0.01, 0.005, -0.008, -0.005];
const fPpoLstm = [
  0.06, 0.19, 0.16, 0.07, 0.01, 0.03, 0.05, 0.01, 0.04, 0.02,
  0.05, 0.01, 0.03, 0.06, 0.02, 0.05, 0.01, 0.04, 0.07, 0.03,
  0.02, 0.06, 0.04, 0.07, 0.01, 0.03, 0.05, 0.02, 0.06, 0.03,
  0.00, 0.04, 0.02, 0.05, 0.03, 0.08, 0.12, 0.13, 0.09, 0.11,
  0.06, 0.09, 0.04, 0.03, 0.10, 0.14, 0.17, 0.15, 0.08, 0.06,
  0.05, 0.10, 0.07, 0.04, 0.08, 0.05, 0.09, 0.03, 0.07, 0.04,
  0.06, 0.09, 0.04, 0.07, 0.02, 0.06, 0.08, 0.05, 0.03, 0.09,
  0.06, 0.04, 0.08, 0.10, 0.07, 0.09, 0.05, 0.08, 0.06, 0.04,
  0.05, 0.03, 0.04, 0.02, 0.05, 0.01, 0.03, 0.00, 0.04, 0.02,
  0.00, 0.03, -0.01, 0.02, 0.04, 0.01, -0.01, 0.03, 0.00, 0.02,
  0.07, 0.03, 0.01, 0.04, 0.02, 0.00, 0.03, 0.01, 0.04, 0.02,
  0.03, 0.00, 0.05, 0.02, 0.04, 0.01, 0.06, 0.03, 0.08, 0.02,
  0.01, 0.04, 0.02, 0.06, 0.01, 0.03, 0.02, 0.05, 0.10, 0.13,
  0.12, 0.10, 0.11, 0.08, 0.10, 0.06, 0.09, 0.05, 0.07, 0.04,
  0.06, 0.03, 0.05, 0.02, 0.04, 0.01, 0.05, 0.03, 0.04, 0.06,
  0.04, 0.07, 0.05, 0.06, 0.08, 0.05, 0.07, 0.04, 0.06, 0.08,
  0.05, 0.07, 0.04, 0.06, 0.08, 0.05, 0.07
];
const fSacLstm = [
  0.02, 0.18, 0.10, -0.03, -0.11, -0.05, -0.13, -0.08, -0.10, -0.04,
  -0.02, 0.01, -0.07, -0.12, -0.09, -0.06, -0.10, -0.04, -0.05, -0.08,
  -0.10, -0.07, -0.09, -0.06, -0.08, -0.12, -0.05, -0.02, -0.01, -0.07,
  -0.01, -0.08, -0.11, -0.07, -0.04, -0.09, -0.06, -0.10, -0.05, -0.09,
  -0.14, -0.11, -0.08, -0.04, 0.00, -0.06, -0.09, -0.07, -0.10, -0.12,
  -0.12, -0.09, -0.06, -0.04, -0.07, -0.08, -0.05, -0.03, -0.02, 0.00,
  -0.01, -0.04, -0.07, -0.05, 0.00, -0.06, -0.11, -0.14, -0.13, -0.08,
  -0.07, -0.05, -0.09, -0.06, -0.10, -0.12, -0.14, -0.11, -0.08, -0.09,
  -0.07, -0.06, -0.04, -0.05, -0.04, -0.08, -0.01, 0.06, 0.03, -0.09,
  -0.08, -0.06, -0.07, -0.06, -0.09, -0.08, -0.10, -0.04, 0.01, -0.05,
  -0.09, -0.14, -0.07, -0.06, -0.09, -0.11, -0.12, -0.10, -0.13, -0.15,
  -0.19, -0.21, -0.13, -0.10, -0.03, -0.07, -0.10, -0.06, -0.09, -0.08,
  -0.12, -0.09, -0.10, -0.07, -0.11, -0.15, -0.16, -0.20, -0.25, -0.29,
  -0.12, -0.08, -0.10, -0.06, -0.02, -0.01, 0.04, 0.02, -0.05, -0.09,
  -0.10, -0.08, -0.05, -0.02, 0.00, -0.04, -0.10, -0.08, -0.07, -0.06,
  -0.03, 0.03, 0.07, 0.04, 0.01, -0.06, -0.13, -0.12, -0.09, -0.10,
  -0.09, -0.11, -0.13, -0.10, -0.08, -0.12, -0.07
];
const fYTicks = [-0.4, -0.2, 0, 0.2];

// ---------- styling
const INK = '#262626';
const GRID = '#dfdfdf';
const SANS = '"Liberation Sans", Arial, sans-serif';
const LATO = 'Lato, "Open Sans", sans-serif';
const SOLID = [], DASH = [40, 22], DOT = [8, 9], DASHDOT = [40, 14, 10, 14];
const COL = {
  ddpg: '#0a5ae6', ddpgL: '#00aaeb', ppo: '#e6173f', ppoL: '#fa417d',
  td3: '#9a35ff', td3L: '#ff00ff', sac: '#00c350', sacL: '#e5b400',
  wDdpg: '#ff6a00', wDdpgL: '#ff8c00', wPpo: '#3cb044', wPpoL: '#00bfa5',
  wTd3: '#ffd500', wTd3L: '#c8860a', wSac: '#8b4513', wSacL: '#b01c1c'
};

function pts(T, V) { return T.map((t, i) => ({ x: t, y: V[i] })); }
function every2s(V) { return V.map((v, i) => ({ x: 1 + 2 * i, y: v })); }

function line(label, data, color, dash, width) {
  return {
    label, data, borderColor: color, backgroundColor: color, borderDash: dash, borderWidth: width,
    pointRadius: 0, tension: 0, fill: false, borderCapStyle: 'butt', borderJoinStyle: 'round', showLine: true
  };
}

const fmt = v => {
  const r = Math.round(v * 10) / 10;
  return r < 0 ? '\u2212' + String(-r) : String(r);
};

function drawRuns(ctx, runs, x, y, size, family, center) {
  const fonts = runs.map(r => r[1] ? 'italic ' + size + 'px "Liberation Serif", serif' : size + 'px ' + family);
  let total = 0;
  runs.forEach((r, i) => { ctx.font = fonts[i]; total += ctx.measureText(r[0]).width; });
  let cx = center ? x - total / 2 : x;
  ctx.textAlign = 'left';
  ctx.textBaseline = 'middle';
  runs.forEach((r, i) => { ctx.font = fonts[i]; ctx.fillText(r[0], cx, y); cx += ctx.measureText(r[0]).width; });
}

function labelRuns(label) {
  const m = label.match(/^(.*\()(v|ω)(\))$/);
  return m ? [[m[1], 0], [m[2], 1], [m[3], 0]] : [[label, 0]];
}

// draws inward ticks, axis titles and the boxed legend, MATLAB style
function matlabLook(cfg) {
  return {
    id: 'matlabLook',
    afterDraw(chart) {
      const { ctx, chartArea: a } = chart;
      const sx = chart.scales.x, sy = chart.scales.y;
      ctx.save();
      ctx.setLineDash([]);
      ctx.strokeStyle = INK;
      ctx.lineWidth = 4;
      sx.ticks.forEach(t => {
        const p = sx.getPixelForValue(t.value);
        if (p > a.left + 3 && p < a.right - 3) { ctx.beginPath(); ctx.moveTo(p, a.bottom); ctx.lineTo(p, a.bottom - 20); ctx.stroke(); }
      });
      sy.ticks.forEach(t => {
        const p = sy.getPixelForValue(t.value);
        if (p > a.top + 3 && p < a.bottom - 3) { ctx.beginPath(); ctx.moveTo(a.left, p); ctx.lineTo(a.left + 20, p); ctx.stroke(); }
      });

      ctx.fillStyle = INK;
      drawRuns(ctx, cfg.xTitle, (a.left + a.right) / 2, a.bottom + cfg.xOff, cfg.titleSize, cfg.family, true);
      ctx.save();
      ctx.translate(a.left - cfg.yOff, (a.top + a.bottom) / 2);
      ctx.rotate(-Math.PI / 2);
      drawRuns(ctx, cfg.yTitle, 0, 0, cfg.titleSize, cfg.family, true);
      ctx.restore();

      const L = cfg.legend;
      const bx = L.box[0] - cfg.left, by = L.box[1] - cfg.top;
      ctx.fillStyle = '#fff';
      ctx.fillRect(bx, by, L.box[2], L.box[3]);
      ctx.strokeStyle = INK;
      ctx.lineWidth = 3;
      ctx.strokeRect(bx, by, L.box[2], L.box[3]);
      cfg.datasets.forEach((d, i) => {
        const col = Math.floor(i / L.rows), row = i % L.rows;
        const y = by + L.y0 + row * L.rowH, x0 = bx + L.cols[col];
        if (d.marker) {
          ctx.fillStyle = '#000';
          ctx.beginPath(); ctx.arc(x0 + L.len / 2, y, 13, 0, Math.PI * 2); ctx.fill();
        } else {
          ctx.strokeStyle = d.borderColor;
          ctx.lineWidth = d.borderWidth + 2;
          ctx.lineCap = 'butt';
          ctx.setLineDash(d.borderDash);
          ctx.beginPath(); ctx.moveTo(x0, y); ctx.lineTo(x0 + L.len, y); ctx.stroke();
          ctx.setLineDash([]);
        }
        ctx.fillStyle = '#000';
        drawRuns(ctx, labelRuns(d.label), x0 + L.len + L.gap, y, L.size, cfg.family, false);
      });
      ctx.restore();
    }
  };
}

function panel(id, box, cfg) {
  const padT = 60, padR = 90, yW = 270, xH = 250;
  const cv = document.getElementById(id);
  const w = box.R - box.L + yW + padR, h = box.B - box.T + padT + xH;
  cv.width = w; cv.height = h;
  cv.style.left = (box.L - yW) + 'px';
  cv.style.top = (box.T - padT) + 'px';
  cfg.left = box.L - yW;
  cfg.top = box.T - padT;
  const n = cfg.datasets.length;
  cfg.datasets.forEach((d, i) => { d.order = n - i; });
  const tickFont = { family: cfg.family, size: cfg.tickSize };
  new Chart(cv, {
    type: 'scatter',
    data: { datasets: cfg.datasets },
    options: {
      responsive: false, animation: false, devicePixelRatio: 1,
      layout: { padding: { top: padT, right: padR, left: 0, bottom: 0 } },
      plugins: { legend: { display: false }, tooltip: { enabled: false } },
      scales: {
        x: {
          type: 'linear', min: cfg.x[0], max: cfg.x[1],
          afterBuildTicks: s => { s.ticks = cfg.xTicks.map(v => ({ value: v })); },
          afterFit: s => { s.height = xH; s.paddingLeft = 0; s.paddingRight = 0; },
          grid: { color: GRID, lineWidth: 3, drawTicks: false },
          border: { display: true, color: INK, width: 4 },
          ticks: { font: tickFont, color: INK, padding: cfg.xPad, maxRotation: 0, autoSkip: false, callback: v => fmt(v) }
        },
        y: {
          type: 'linear', min: cfg.y[0], max: cfg.y[1],
          afterBuildTicks: s => { s.ticks = cfg.yTicks.map(v => ({ value: v })); },
          afterFit: s => { s.width = yW; s.paddingTop = 0; s.paddingBottom = 0; },
          grid: { color: GRID, lineWidth: 3, drawTicks: false },
          border: { display: true, color: INK, width: 4 },
          ticks: { font: tickFont, color: INK, padding: 22, autoSkip: false, callback: v => fmt(v) }
        }
      }
    },
    plugins: [matlabLook(cfg)]
  });
}

const TIME_TITLE = [['Time (seconds)', 0]];

// ---- (a)
const startDot = { label: 'Initial Position', data: pts(aStartX, aStartY), showLine: false, pointRadius: 14, pointBackgroundColor: '#000', pointBorderWidth: 0, marker: true };
panel('pa', { L: 278, T: 75, R: 1990, B: 1890 }, {
  family: LATO, tickSize: 66, titleSize: 78, xPad: 38,
  x: [30, 120], y: [30, 120], xTicks: aXTicks, yTicks: aYTicks,
  xTitle: [['X Coordinates [m]', 0]], xOff: 182, yTitle: [['Y Coordinates [m]', 0]], yOff: 166,
  legend: { box: [875, 598, 522, 760], rows: 10, y0: 42, rowH: 75.3, cols: [20], len: 124, gap: 12, size: 52 },
  datasets: [
    line('DDPG', pts(aDdpgX, aDdpgY), COL.ddpg, SOLID, 8),
    line('DDPG LSTM', pts(aDdpgLstmX, aDdpgLstmY), COL.ddpgL, DOT, 8),
    line('PPO', pts(aPpoX, aPpoY), COL.ppo, DASH, 8),
    line('PPO LSTM', pts(aPpoLstmX, aPpoLstmY), COL.ppoL, DASHDOT, 8),
    line('TD3', pts(aTd3X, aTd3Y), COL.td3, SOLID, 8),
    line('TD3 LSTM', pts(aTd3LstmX, aTd3LstmY), COL.td3L, DOT, 8),
    line('SAC', pts(aSacX, aSacY), COL.sac, DASH, 8),
    line('SAC LSTM', pts(aSacLstmX, aSacLstmY), COL.sacL, DASHDOT, 8),
    line('Reference', pts(aRefX, aRefY), '#000', DASH, 8),
    startDot
  ]
});

// ---- (b)
panel('pb', { L: 2388, T: 90, R: 4106, B: 1890 }, {
  family: SANS, tickSize: 70, titleSize: 80, xPad: 35,
  x: [1, 333], y: [-0.8, 0.8], xTicks: timeTicks, yTicks: bYTicks,
  xTitle: TIME_TITLE, xOff: 182,
  yTitle: [['Control actions: ', 0], ['v', 1], [' [m/s], ', 0], ['ω', 1], [' [rad/s]', 0]], yOff: 207,
  legend: { box: [2922, 1261, 1170, 601], rows: 8, y0: 46, rowH: 74.3, cols: [15, 597], len: 122, gap: 16, size: 56 },
  datasets: [
    line('DDPG (v)', pts(bVT, bDdpgV), COL.ddpg, SOLID, 8),
    line('DDPG LSTM (v)', pts(bVT, bDdpgLstmV), COL.ddpgL, DOT, 8),
    line('PPO (v)', pts(bVT, bPpoV), COL.ppo, DASH, 8),
    line('PPO LSTM (v)', every2s(bPpoLstmV), COL.ppoL, DASHDOT, 7),
    line('TD3 (v)', pts(bVT, bTd3V), COL.td3, SOLID, 8),
    line('TD3 LSTM (v)', pts(bVT, bTd3LstmV), COL.td3L, DOT, 8),
    line('SAC (v)', pts(bVT, bSacV), COL.sac, DASH, 8),
    line('SAC LSTM (v)', every2s(bSacLstmV), COL.sacL, DASHDOT, 7),
    line('DDPG (ω)', pts(bWT, bDdpgW), COL.wDdpg, SOLID, 8),
    line('DDPG LSTM (ω)', pts(bWT, bDdpgLstmW), COL.wDdpgL, DOT, 8),
    line('PPO (ω)', pts(bWT, bPpoW), COL.wPpo, DASH, 8),
    line('PPO LSTM (ω)', every2s(bPpoLstmW), COL.wPpoL, DASHDOT, 7),
    line('TD3 (ω)', pts(bTd3WT, bTd3W), COL.wTd3, SOLID, 5),
    line('TD3 LSTM (ω)', pts(bWT, bTd3LstmW), COL.wTd3L, DOT, 8),
    line('SAC (ω)', pts(bWT, bSacW), COL.wSac, DASH, 8),
    line('SAC LSTM (ω)', every2s(bSacLstmW), COL.wSacL, DASHDOT, 7)
  ]
});

// ---- (c)
panel('pc', { L: 262, T: 2300, R: 2040, B: 3128 }, {
  family: SANS, tickSize: 72, titleSize: 80, xPad: 35,
  x: [1, 333], y: [-2.5, 1.5], xTicks: timeTicks, yTicks: posTicks,
  xTitle: TIME_TITLE, xOff: 186, yTitle: [['Positional error [m]', 0]], yOff: 153,
  legend: { box: [1026, 2332, 980, 317], rows: 4, y0: 46, rowH: 76.5, cols: [13, 529], len: 129, gap: 14, size: 58 },
  datasets: [
    line('DDPG', pts(cT, cDdpg), COL.ddpg, SOLID, 9),
    line('DDPG LSTM', pts(cT, cDdpgLstm), COL.ddpgL, DOT, 9),
    line('PPO', pts(cPpoT, cPpo), COL.ppo, DASH, 9),
    line('PPO LSTM', pts(cPpoLstmT, cPpoLstm), COL.ppoL, DASHDOT, 9),
    line('TD3', pts(cT, cTd3), COL.td3, SOLID, 9),
    line('TD3 LSTM', pts(cTd3LstmT, cTd3Lstm), COL.td3L, DOT, 9),
    line('SAC', pts(cSacT, cSac), COL.sac, DASH, 9),
    line('SAC LSTM', pts(cSacLstmT, cSacLstm), COL.sacL, DASHDOT, 9)
  ]
});

// ---- (d)
panel('pd', { L: 2386, T: 2337, R: 4107, B: 3143 }, {
  family: SANS, tickSize: 72, titleSize: 80, xPad: 35,
  x: [1, 333], y: [-2, 0.5], xTicks: timeTicks, yTicks: dYTicks,
  xTitle: TIME_TITLE, xOff: 177, yTitle: [['Orientation error [rad]', 0]], yOff: 205,
  legend: { box: [2419, 2794, 949, 311], rows: 4, y0: 45, rowH: 74.5, cols: [13, 511], len: 128, gap: 9, size: 58 },
  datasets: [
    line('DDPG', pts(dT, dDdpg), COL.ddpg, SOLID, 9),
    line('DDPG LSTM', pts(dT, dDdpgLstm), COL.ddpgL, DOT, 9),
    line('PPO', pts(dT, dPpo), COL.ppo, DASH, 9),
    line('PPO LSTM', every2s(dPpoLstm), COL.ppoL, DASHDOT, 9),
    line('TD3', pts(dT, dTd3), COL.td3, SOLID, 9),
    line('TD3 LSTM', pts(dT, dTd3Lstm), COL.td3L, DOT, 9),
    line('SAC', pts(dT, dSac), COL.sac, DASH, 9),
    line('SAC LSTM', every2s(dSacLstm), COL.sacL, DASHDOT, 9)
  ]
});

// ---- (e)
panel('pe', { L: 252, T: 3542, R: 2032, B: 4373 }, {
  family: SANS, tickSize: 72, titleSize: 80, xPad: 35,
  x: [1, 333], y: [-2.5, 1.5], xTicks: timeTicks, yTicks: posTicks,
  xTitle: TIME_TITLE, xOff: 190, yTitle: [['Positional error [m]', 0]], yOff: 152,
  legend: { box: [1016, 4012, 979, 322], rows: 4, y0: 48, rowH: 77.3, cols: [14, 528], len: 128, gap: 13, size: 58 },
  datasets: [
    line('DDPG', pts(eDdpgT, eDdpg), COL.ddpg, SOLID, 9),
    line('DDPG LSTM', pts(eDdpgLstmT, eDdpgLstm), COL.ddpgL, DOT, 9),
    line('PPO', pts(ePpoT, ePpo), COL.ppo, DASH, 9),
    line('PPO LSTM', pts(ePpoLstmT, ePpoLstm), COL.ppoL, DASHDOT, 9),
    line('TD3', pts(eTd3T, eTd3), COL.td3, SOLID, 9),
    line('TD3 LSTM', pts(eTd3LstmT, eTd3Lstm), COL.td3L, DOT, 9),
    line('SAC', pts(eSacT, eSac), COL.sac, DASH, 9),
    line('SAC LSTM', pts(eSacLstmT, eSacLstm), COL.sacL, DASHDOT, 9)
  ]
});

// ---- (f)
panel('pf', { L: 2398, T: 3580, R: 4116, B: 4387 }, {
  family: SANS, tickSize: 72, titleSize: 80, xPad: 35,
  x: [1, 333], y: [-0.4, 0.2], xTicks: timeTicks, yTicks: fYTicks,
  xTitle: TIME_TITLE, xOff: 179, yTitle: [['Speed error [m/s]', 0]], yOff: 211,
  legend: { box: [2430, 4036, 947, 310], rows: 4, y0: 46, rowH: 74.7, cols: [14, 511], len: 125, gap: 13, size: 58 },
  datasets: [
    line('DDPG', pts(fDdpgT, fDdpg), COL.ddpg, SOLID, 9),
    line('DDPG LSTM', pts(fDdpgLstmT, fDdpgLstm), COL.ddpgL, DOT, 9),
    line('PPO', pts(fPpoT, fPpo), COL.ppo, DASH, 9),
    line('PPO LSTM', every2s(fPpoLstm), COL.ppoL, DASHDOT, 8),
    line('TD3', pts(fTd3T, fTd3), COL.td3, SOLID, 9),
    line('TD3 LSTM', pts(fTd3LstmT, fTd3Lstm), COL.td3L, DOT, 9),
    line('SAC', pts(fSacT, fSac), COL.sac, DASH, 9),
    line('SAC LSTM', every2s(fSacLstm), COL.sacL, DASHDOT, 8)
  ]
});
</script>
</body>
</html>
